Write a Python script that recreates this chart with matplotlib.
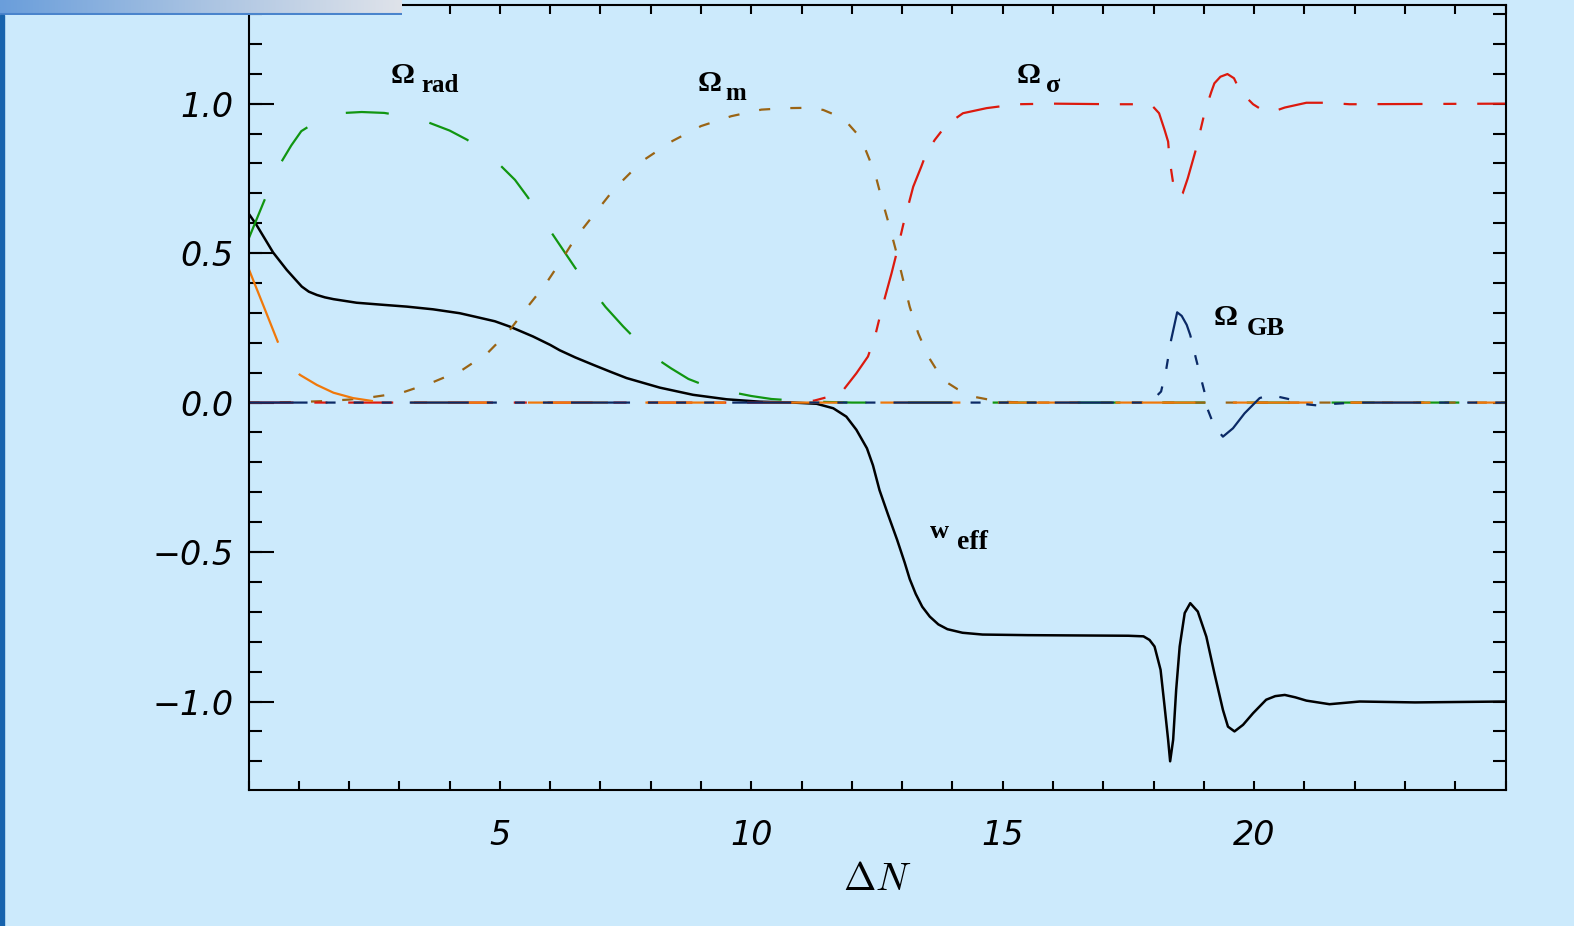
import numpy as np
import matplotlib.pyplot as plt
from matplotlib.ticker import MultipleLocator
from matplotlib.colors import LinearSegmentedColormap
from matplotlib.patches import Rectangle

# Valores: ΔN e as frações de energia / w_eff
dn_weff = [0, 0.16, 0.49, 0.76, 0.92, 1.06, 1.2, 1.36, 1.52, 1.69, 2.15, 2.68, 3.15, 3.67,
           4.2, 4.54, 4.9, 5.2, 5.66, 6.0, 6.19, 6.5, 6.86, 7.2, 7.52, 8.18, 8.84, 9.51,
           10.17, 10.83, 11.3, 11.63, 11.89, 12.09, 12.3, 12.42, 12.55, 12.72, 12.9, 13.05,
           13.15, 13.27, 13.4, 13.55, 13.72, 13.9, 14.2, 14.6, 15.5, 17.5, 17.8, 17.92,
           18.02, 18.14, 18.22, 18.29, 18.33, 18.39, 18.45, 18.52, 18.62, 18.73, 18.88,
           19.05, 19.21, 19.38, 19.48, 19.61, 19.78, 19.98, 20.24, 20.42, 20.61, 20.82,
           21.04, 21.5, 22.1, 23.2, 25]
weff = [0.633, 0.594, 0.502, 0.444, 0.414, 0.388, 0.371, 0.36, 0.352, 0.346, 0.334, 0.327,
        0.321, 0.312, 0.299, 0.286, 0.272, 0.254, 0.221, 0.193, 0.175, 0.151, 0.126, 0.103,
        0.082, 0.05, 0.026, 0.011, 0.003, 0.0, -0.004, -0.019, -0.047, -0.091, -0.153,
        -0.21, -0.293, -0.375, -0.459, -0.535, -0.59, -0.64, -0.683, -0.716, -0.742,
        -0.758, -0.77, -0.776, -0.778, -0.78, -0.782, -0.794, -0.816, -0.894, -1.017,
        -1.128, -1.2, -1.128, -0.961, -0.816, -0.704, -0.671, -0.699, -0.783, -0.905,
        -1.028, -1.084, -1.1, -1.078, -1.039, -0.994, -0.982, -0.978, -0.986, -0.997,
        -1.009, -1.0, -1.003, -1.0]

dn_rad = [0, 0.3, 0.6, 0.85, 1.05, 1.4, 1.8, 2.25, 2.7, 3.1, 3.55, 4.0, 4.35, 4.7, 5.0, 5.3,
          5.55, 5.9, 6.2, 6.5, 6.8, 7.1, 7.45, 7.8, 8.0, 8.4, 8.75, 9.1, 9.55, 10.0, 10.4,
          11.0, 11.5, 12.0, 25]
om_rad = [0.547, 0.67, 0.79, 0.86, 0.908, 0.945, 0.968, 0.972, 0.969, 0.958, 0.939, 0.91,
          0.879, 0.838, 0.795, 0.745, 0.688, 0.6, 0.525, 0.45, 0.385, 0.32, 0.255, 0.195,
          0.16, 0.115, 0.079, 0.056, 0.037, 0.022, 0.012, 0.005, 0.002, 0, 0]

dn_m = [0, 1.0, 1.5, 2.0, 2.45, 3.05, 3.65, 4.25, 4.75, 5.17, 5.53, 5.9, 6.2, 6.5, 6.8,
        7.27, 7.83, 8.43, 9.0, 9.6, 10.2, 10.7, 11.1, 11.43, 11.7, 11.92, 12.1, 12.26,
        12.46, 12.59, 12.75, 12.89, 13.02, 13.15, 13.32, 13.52, 13.81, 14.1, 14.41, 14.94,
        15.5, 25]
om_m = [0, 0.002, 0.005, 0.01, 0.018, 0.033, 0.067, 0.109, 0.165, 0.237, 0.316, 0.394,
        0.47, 0.55, 0.614, 0.714, 0.808, 0.875, 0.925, 0.958, 0.98, 0.985, 0.986, 0.979,
        0.96, 0.934, 0.9, 0.851, 0.767, 0.684, 0.589, 0.5, 0.41, 0.321, 0.232, 0.154,
        0.076, 0.045, 0.02, 0.003, 0, 0]

dn_sig = [0, 11.0, 11.26, 11.55, 11.83, 12.09, 12.32, 12.46, 12.59, 12.79, 12.89, 13.02,
          13.22, 13.38, 13.48, 13.65, 13.88, 14.21, 14.68, 15.28, 16.0, 17.26, 17.82, 17.99,
          18.11, 18.22, 18.29, 18.32, 18.39, 18.5, 18.58, 18.68, 18.84, 19.02, 19.15, 19.21,
          19.33, 19.47, 19.6, 19.71, 19.85, 19.98, 20.15, 20.37, 20.61, 21.04, 21.44, 21.9, 25]
om_sig = [0, 0, 0.007, 0.02, 0.042, 0.098, 0.154, 0.221, 0.31, 0.433, 0.5, 0.594, 0.722,
          0.789, 0.834, 0.879, 0.929, 0.968, 0.985, 0.998, 1.0, 0.998, 0.998, 0.99, 0.968,
          0.912, 0.873, 0.812, 0.734, 0.689, 0.7, 0.75, 0.845, 0.973, 1.04, 1.068, 1.09,
          1.099, 1.085, 1.046, 1.02, 0.998, 0.98, 0.973, 0.987, 1.003, 1.003, 0.998, 1.0]

dn_kin = [0, 0.29, 0.59, 0.8, 1.02, 1.36, 1.69, 2.08, 2.55, 3.0, 25]
om_kin = [0.449, 0.327, 0.2, 0.14, 0.093, 0.059, 0.033, 0.015, 0.003, 0, 0]

dn_gb = [0, 17.8, 18.02, 18.15, 18.25, 18.35, 18.47, 18.56, 18.66, 18.73, 18.85, 19.02,
         19.08, 19.21, 19.38, 19.58, 19.81, 20.11, 20.31, 20.71, 20.94, 21.34, 21.6, 22.03, 25]
om_gb = [0, 0, 0.015, 0.037, 0.109, 0.21, 0.302, 0.29, 0.26, 0.226, 0.143, 0.031, -0.024,
         -0.08, -0.114, -0.086, -0.036, 0.015, 0.026, 0.011, -0.004, -0.011, -0.004, 0, 0]

x_ticks = [5, 10, 15, 20]
x_labels = ['5', '10', '15', '20']
y_ticks = [-1.0, -0.5, 0.0, 0.5, 1.0]
y_labels = ['\u22121.0', '\u22120.5', '0.0', '0.5', '1.0']

plt.rcParams['lines.scale_dashes'] = False
plt.rcParams['mathtext.fontset'] = 'cm'

fundo = '#cceafc'
W, H = 1574, 926
fig = plt.figure(figsize=(W / 100, H / 100), dpi=100, facecolor=fundo)
ax = fig.add_axes([248.5 / W, 1 - 790 / H, (1505.5 - 248.5) / W, 785 / H])
ax.set_facecolor(fundo)

lw = 1.6
ax.plot(dn_weff, weff, color='black', lw=1.8)
ax.plot(dn_rad, om_rad, color='#119611', lw=lw, dashes=(31, 30))
ax.plot(dn_m, om_m, color='#9a6414', lw=lw, dashes=(8, 14.5))
ax.plot(dn_sig, om_sig, color='#dc1a0e', lw=lw, dashes=(32.4, 15, 9.4, 15))
ax.plot(dn_kin, om_kin, color='#f0780a', lw=lw, dashes=(57.6, 27))
ax.plot(dn_gb, om_gb, color='#0b2a66', lw=lw,
        dashes=(42.5, 13, 7.2, 13, 7.2, 13, 7.2, 13))

ax.set_xlim(0, 25)
ax.set_ylim(-1.296, 1.33)

ax.set_xticks(x_ticks, x_labels, fontsize=24, fontstyle='italic')
ax.xaxis.set_minor_locator(MultipleLocator(1))
ax.set_yticks(y_ticks, y_labels, fontsize=24, fontstyle='italic')
ax.yaxis.set_minor_locator(MultipleLocator(0.1))
ax.yaxis.remove_overlapping_locs = False

ax.tick_params(axis='x', which='both', direction='in', length=6.5, width=1.5,
               top=True, bottom=True, pad=21)
ax.tick_params(axis='y', which='major', direction='in', length=18, width=1.5,
               left=True, right=False, pad=10.5)
ax.tick_params(axis='y', which='minor', direction='in', length=9.4, width=1.5,
               left=True, right=True)
for sp in ax.spines.values():
    sp.set_linewidth(1.5)

ax.set_xlabel(r'$\Delta N$', fontsize=28)
ax.xaxis.set_label_coords(0.5, -0.089)

# rótulos das curvas
serif = dict(family='Liberation Serif', weight='bold')
ax.text(2.83, 1.069, '\u03a9', fontsize=21.5, **serif)
ax.text(3.43, 1.039, 'rad', fontsize=18, **serif)
ax.text(8.94, 1.043, '\u03a9', fontsize=21.5, **serif)
ax.text(9.49, 1.013, 'm', fontsize=18, **serif)
ax.text(15.28, 1.069, '\u03a9', fontsize=21.5, **serif)
ax.text(15.87, 1.039, '\u03c3', fontsize=19, **serif)
ax.text(19.2, 0.26, '\u03a9', fontsize=21.5, **serif)
ax.text(19.85, 0.226, 'GB', fontsize=19, **serif)
ax.text(13.55, -0.452, 'w', fontsize=19, **serif)
ax.text(14.1, -0.489, 'eff', fontsize=20, **serif)

# barra de título em degradê e faixa azul à esquerda
barra = fig.add_axes([0, 1 - 15 / H, 402 / W, 15 / H])
cmap = LinearSegmentedColormap.from_list('barra', ['#6a9edb', '#a9c3e2', '#dfe3ea'])
barra.imshow(np.linspace(0, 1, 256)[None, :], aspect='auto', cmap=cmap,
             extent=[0, 1, 0, 1])
barra.axhline(0.06, color='#4a84cc', lw=1.5)
barra.axis('off')
fig.patches.append(Rectangle((0, 0), 3.5 / W, 1 - 15 / H, transform=fig.transFigure,
                             color='#1763ad'))

fig.savefig('out.png', dpi=100, facecolor=fundo)
